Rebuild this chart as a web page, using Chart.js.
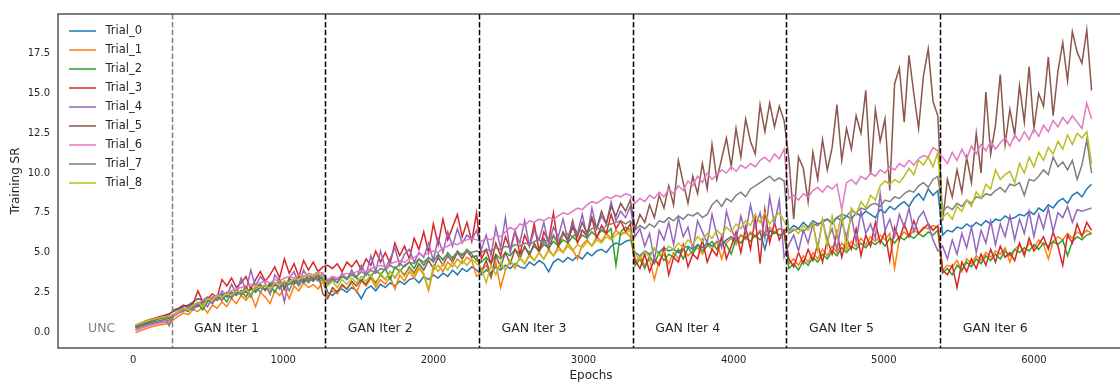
<!DOCTYPE html>
<html><head><meta charset="utf-8">
<script src="https://cdn.jsdelivr.net/npm/chart.js@4.4.1/dist/chart.umd.min.js"></script>
<style>html,body{margin:0;padding:0;overflow:hidden;background:#fff}#wrap{width:1126px;height:385px}</style>
</head><body><div id="wrap"><canvas id="c" width="1126" height="385"></canvas></div>
<script>
// ---- categories (epochs) ----
const epochs = [
16,48,80,112,144,176,208,240,
272,304,336,368,400,432,464,496,528,560,592,624,656,688,720,752,784,816,848,880,912,944,976,1008,1040,1072,1104,1136,1168,1200,1232,1264,
1296,1328,1360,1392,1424,1456,1488,1520,1552,1584,1616,1648,1680,1712,1744,1776,1808,1840,1872,1904,1936,1968,2000,2032,2064,2096,2128,2160,2192,2224,2256,2288,
2320,2352,2384,2416,2448,2480,2512,2544,2576,2608,2640,2672,2704,2736,2768,2800,2832,2864,2896,2928,2960,2992,3024,3056,3088,3120,3152,3184,3216,3248,3280,3312,
3344,3376,3408,3440,3472,3504,3536,3568,3600,3632,3664,3696,3728,3760,3792,3824,3856,3888,3920,3952,3984,4016,4048,4080,4112,4144,4176,4208,4240,4272,4304,4336,
4368,4400,4432,4464,4496,4528,4560,4592,4624,4656,4688,4720,4752,4784,4816,4848,4880,4912,4944,4976,5008,5040,5072,5104,5136,5168,5200,5232,5264,5296,5328,5360,
5392,5424,5456,5488,5520,5552,5584,5616,5648,5680,5712,5744,5776,5808,5840,5872,5904,5936,5968,6000,6032,6064,6096,6128,6160,6192,6224,6256,6288,6320,6352,6384
];
const trialNames = ['Trial_0','Trial_1','Trial_2','Trial_3','Trial_4','Trial_5','Trial_6','Trial_7','Trial_8'];
const trialColors = ['#1f77b4','#ff7f0e','#2ca02c','#d62728','#9467bd','#8c564b','#e377c2','#7f7f7f','#bcbd22'];

// ---- series values (Training SR) ----
const trial0 = [
0.35,0.5,0.62,0.74,0.85,0.95,1.05,1.15,
1.3,1.45,1.6,1.7,1.9,2.1,2.0,2.2,2.1,2.3,2.4,2.2,2.5,2.4,2.6,2.5,2.7,2.6,2.8,2.7,2.9,3.0,2.8,3.1,3.0,3.2,3.1,3.3,3.2,3.4,3.3,3.5,
2.5,2.3,2.6,2.7,2.5,2.8,2.6,2.1,2.7,2.9,2.6,3.0,2.8,3.1,2.9,3.2,3.0,3.3,3.4,3.1,3.5,3.3,3.6,3.4,3.7,3.5,3.9,3.6,4.0,3.8,4.1,3.9,
3.6,3.9,3.7,4.1,3.9,4.2,4.0,4.3,4.1,4.0,4.4,4.2,4.5,4.3,3.8,4.4,4.6,4.4,4.7,4.5,4.8,4.6,5.0,4.8,5.1,5.2,5.0,5.4,5.6,5.5,5.7,5.8,
5.0,4.8,5.1,4.9,5.2,5.0,5.3,5.1,5.2,5.0,5.3,5.4,5.2,5.5,5.3,5.6,5.4,5.7,5.5,5.8,6.0,5.7,6.1,5.9,6.2,6.0,6.3,5.2,6.4,6.2,6.5,6.4,
6.4,6.7,6.5,6.9,6.6,7.0,6.8,6.9,7.1,6.8,7.2,7.0,7.3,7.1,7.5,7.3,7.6,7.4,7.2,7.7,7.5,7.9,7.7,8.0,8.2,7.9,8.4,8.7,8.3,9.0,8.6,8.9,
6.1,6.4,6.3,6.6,6.5,6.8,6.6,6.9,6.7,7.0,6.8,7.1,7.0,7.3,7.1,7.2,7.4,7.3,7.6,7.4,7.8,7.6,8.0,7.8,8.2,8.4,8.1,8.6,8.8,8.5,9.0,9.3
];
const trial1 = [
-0.05,0.1,0.2,0.3,0.38,0.45,0.5,0.55,
0.8,1.0,1.2,1.1,1.4,1.3,1.6,1.2,1.7,1.5,1.9,1.6,2.1,1.8,2.3,2.0,2.4,1.6,2.5,2.2,1.8,2.6,2.3,2.8,2.1,2.9,2.6,3.1,2.8,3.0,2.7,3.2,
2.2,2.6,2.4,2.9,2.7,3.1,2.5,3.2,2.9,3.4,2.8,3.3,3.0,3.5,2.7,3.6,3.2,3.8,3.4,4.0,3.6,2.6,3.9,4.2,3.8,4.4,4.1,4.6,4.3,4.7,4.5,3.5,
3.8,4.2,3.4,4.4,2.8,3.9,4.5,4.0,4.7,4.3,4.9,4.5,5.0,4.6,5.2,4.8,5.4,5.0,5.6,5.2,4.6,5.5,5.8,5.4,6.0,5.7,6.2,5.9,6.4,6.1,6.3,6.0,
4.4,4.8,4.2,4.6,3.3,4.5,4.9,4.3,5.0,4.6,5.2,4.8,5.1,5.3,4.9,5.5,5.2,5.7,4.6,5.6,5.9,5.5,6.1,5.8,6.3,6.0,6.4,6.2,6.6,6.3,6.5,6.4,
4.3,4.6,4.2,4.8,4.4,5.0,4.6,5.2,4.8,5.4,5.0,5.6,5.2,5.7,5.4,5.9,5.5,6.0,5.7,6.1,5.8,6.2,4.0,5.9,6.3,6.0,6.4,6.2,6.6,6.5,6.7,6.6,
3.9,4.2,4.1,4.5,3.8,4.6,4.3,4.8,4.5,5.0,4.7,5.1,4.9,5.3,4.4,5.2,5.5,5.0,5.6,5.3,5.8,5.5,4.6,5.7,6.0,5.8,6.2,5.9,6.3,6.1,6.4,6.2
];
const trial2 = [
0.25,0.38,0.48,0.57,0.65,0.72,0.79,0.85,
1.0,1.2,1.4,1.3,1.6,1.8,1.4,1.9,2.1,2.0,2.3,1.9,2.5,2.3,2.6,2.2,2.8,2.5,2.9,2.7,3.0,2.5,3.1,2.9,3.2,3.0,3.3,3.1,3.4,3.2,3.5,3.3,
3.0,3.3,3.1,3.5,3.3,3.6,3.4,3.2,3.7,3.5,3.9,3.6,4.0,3.3,4.1,3.8,4.2,4.4,4.0,4.6,4.2,4.7,4.4,4.9,4.5,5.0,4.6,5.1,4.8,5.2,4.9,4.5,
4.4,4.7,4.3,4.9,4.6,5.0,4.8,5.2,4.9,5.3,5.0,5.4,5.1,5.5,5.3,5.7,5.4,5.8,5.6,6.0,5.7,6.1,5.9,6.3,6.0,6.4,6.2,6.5,4.2,6.3,6.6,6.4,
4.2,4.6,4.0,4.8,4.3,5.0,4.5,4.9,4.7,5.2,4.6,5.3,4.9,5.5,5.1,5.4,5.7,5.2,5.8,5.5,4.9,5.9,5.6,6.0,5.7,6.1,5.8,6.2,6.0,6.3,6.1,6.2,
4.0,4.3,3.9,4.5,4.2,4.7,4.4,4.9,4.6,5.1,4.8,5.3,5.0,5.4,5.2,5.6,5.3,5.7,5.5,5.8,5.4,5.9,5.6,6.0,5.8,6.1,5.9,6.2,6.0,6.3,6.1,6.4,
3.7,4.0,3.6,4.2,3.9,4.4,4.1,4.6,4.3,4.8,4.5,4.9,4.6,5.1,4.8,5.2,5.0,5.3,5.1,5.5,5.2,5.6,5.4,5.7,5.5,5.8,4.8,5.7,6.0,5.8,6.1,6.2
];
const trial3 = [
0.4,0.55,0.68,0.79,0.88,0.96,1.03,1.1,
1.4,1.5,1.7,1.6,1.8,2.6,1.9,2.1,2.4,2.2,3.3,2.9,3.4,2.8,3.1,3.5,2.7,3.3,3.8,3.2,3.6,4.1,3.4,4.6,3.7,4.3,3.5,4.5,3.9,4.4,3.8,4.1,
4.2,4.0,4.3,3.8,4.4,4.1,4.5,3.9,4.6,4.2,5.1,4.4,5.0,4.3,5.6,4.8,5.4,4.6,5.9,5.2,6.3,5.0,6.8,5.5,7.1,5.8,6.6,7.4,6.0,6.9,5.7,7.5,
4.6,5.2,4.3,5.6,4.8,6.0,5.2,6.4,4.9,6.1,5.4,6.8,5.1,6.3,5.7,7.5,5.4,6.2,5.8,7.0,5.6,6.4,6.0,7.2,5.9,6.7,6.2,7.4,6.5,7.0,6.3,6.8,
4.5,4.0,4.9,3.8,4.6,4.2,5.3,3.6,4.7,4.4,5.5,4.1,4.9,4.6,5.8,4.4,5.2,4.8,6.0,4.6,5.4,6.3,5.0,6.6,5.2,7.2,4.3,7.7,5.6,6.9,5.8,6.4,
4.6,4.1,5.0,4.3,5.2,4.5,5.5,4.4,5.8,4.9,6.3,4.7,5.9,5.2,6.5,4.8,6.1,5.4,6.9,5.6,6.3,4.5,6.6,5.8,6.8,6.0,7.0,6.2,6.5,6.8,6.4,6.7,
3.9,3.6,4.2,2.8,4.4,3.8,4.6,4.0,4.9,4.2,5.2,4.4,5.4,4.7,5.0,4.5,5.6,4.8,5.9,5.1,5.5,6.0,5.2,6.3,5.4,4.2,6.1,5.6,6.8,6.0,6.9,6.4
];
const trial4 = [
0.15,0.28,0.39,0.49,0.57,0.64,0.7,0.75,
1.0,1.2,1.3,1.5,1.4,1.7,1.9,1.6,2.2,2.0,2.6,2.3,3.0,2.4,3.4,2.6,3.9,2.9,3.5,3.1,2.4,3.6,3.2,1.9,3.4,3.8,3.0,3.9,3.3,3.6,3.4,3.7,
3.0,3.4,3.1,3.7,3.3,3.9,3.4,4.2,3.6,4.8,3.8,5.1,4.0,4.6,5.3,4.2,4.9,5.2,4.4,5.0,4.7,5.6,4.5,5.9,5.0,6.3,5.4,6.5,5.6,6.1,5.8,6.4,
5.2,6.1,4.8,6.6,5.3,7.2,5.0,6.3,5.6,7.0,5.4,6.4,5.8,6.9,5.5,6.6,6.0,7.1,5.8,6.8,6.2,7.4,6.0,7.8,6.5,7.3,6.8,8.2,7.0,7.6,7.2,7.9,
6.0,6.5,5.4,6.2,4.5,6.4,5.8,6.9,5.5,7.2,6.0,6.6,5.2,7.0,6.3,5.6,7.4,6.1,5.3,7.6,6.5,5.8,7.3,6.2,8.0,6.6,7.5,5.9,8.5,6.8,8.3,4.7,
5.5,6.1,5.1,6.4,5.6,6.8,5.3,7.0,5.8,6.5,5.2,6.9,6.0,7.3,5.7,7.6,6.2,6.8,5.9,8.7,6.4,7.1,6.0,7.4,6.6,7.8,6.3,7.2,7.6,6.8,5.8,5.1,
5.4,4.6,5.8,4.9,6.2,5.3,6.6,5.0,6.4,5.6,7.0,5.5,6.8,6.0,7.3,5.8,7.1,6.2,7.6,6.0,7.4,6.5,7.8,6.3,7.5,7.2,7.9,6.9,7.7,7.6,7.7,7.8
];
const trial5 = [
0.3,0.44,0.56,0.66,0.75,0.83,0.9,0.95,
1.1,1.3,1.5,1.4,1.7,1.6,1.9,2.1,1.8,2.3,2.0,2.5,2.2,2.7,2.4,2.9,2.3,2.8,3.0,2.6,3.1,2.9,3.3,2.7,3.4,3.1,3.5,3.2,3.6,3.3,3.7,2.4,
2.1,2.8,2.5,3.0,2.7,3.2,2.9,3.3,3.0,3.5,3.1,3.6,3.3,3.8,3.4,3.9,3.6,4.1,3.7,4.3,3.9,4.5,4.0,4.7,4.2,4.8,4.4,5.0,4.6,5.1,4.7,4.8,
3.8,4.5,3.5,4.8,4.1,5.0,4.3,5.2,4.6,5.4,4.8,5.6,5.0,5.9,5.2,6.1,5.5,6.3,5.7,6.6,6.0,6.9,6.2,7.2,6.5,7.6,6.8,7.9,7.3,8.1,7.6,8.3,
6.5,7.4,6.9,8.0,7.2,8.6,7.8,9.2,8.0,10.8,9.4,8.1,9.8,8.7,10.6,9.0,11.8,9.6,10.9,12.2,10.4,12.8,11.0,13.4,12.0,11.2,14.3,12.6,14.4,12.9,14.2,13.3,
10.9,7.1,11.0,10.3,8.2,11.3,9.6,12.1,10.2,11.6,14.3,10.8,12.8,11.5,13.6,12.5,15.2,9.9,14.0,12.0,13.4,8.9,15.6,16.6,13.2,17.4,15.0,12.8,16.1,17.8,14.5,13.6,
7.0,9.6,8.5,10.2,8.8,11.0,9.4,12.5,10.0,15.1,11.2,13.0,16.2,11.8,14.0,12.4,15.5,13.2,16.7,12.8,15.0,14.2,17.3,13.6,16.4,18.2,15.8,18.9,17.6,16.9,19.0,15.2
];
const trial6 = [
0.1,0.22,0.32,0.41,0.49,0.56,0.61,0.65,
1.0,1.2,1.4,1.5,1.7,1.8,2.0,2.1,2.2,2.3,2.5,2.4,2.6,2.7,2.8,2.9,3.0,2.9,3.1,3.2,3.1,3.3,3.2,3.4,3.5,3.4,3.6,3.5,3.7,3.6,3.8,3.7,
3.3,3.5,3.4,3.6,3.7,3.6,3.8,3.9,3.8,4.0,4.1,4.2,4.1,4.3,4.4,4.5,4.4,4.6,4.7,4.9,4.8,5.0,5.1,5.0,5.3,5.4,5.6,5.5,5.7,5.8,5.9,5.8,
5.7,5.9,5.8,6.1,6.0,6.3,6.6,6.4,6.8,6.7,7.0,6.9,7.1,7.0,7.2,7.1,7.3,7.5,7.4,7.6,7.8,7.7,8.0,8.2,8.1,8.3,8.5,8.4,8.6,8.5,8.7,8.6,
8.1,8.4,8.2,8.6,8.4,8.8,8.5,9.0,8.7,9.2,8.9,9.5,9.2,9.8,9.4,10.0,9.6,9.9,10.2,10.0,10.4,10.1,10.5,10.3,10.6,10.4,10.8,11.0,10.7,11.2,10.9,11.5,
8.4,8.6,8.3,8.7,8.5,8.9,9.1,8.8,9.2,9.0,9.3,7.7,9.4,9.6,9.3,9.8,9.6,10.0,9.8,10.2,10.0,10.4,10.2,10.6,10.4,10.8,10.5,10.9,11.1,11.0,11.6,11.4,
11.0,10.6,11.3,10.8,11.5,10.9,11.7,11.2,11.8,11.4,12.0,11.5,11.9,12.2,11.7,12.4,12.0,12.6,12.1,12.8,12.3,13.0,12.6,13.3,12.9,13.5,13.1,13.6,13.2,12.8,14.4,13.4
];
const trial7 = [
0.35,0.48,0.6,0.7,0.8,0.9,0.98,0.4,
1.1,1.3,1.4,1.6,1.5,1.8,1.7,2.0,1.8,2.2,2.0,2.4,2.1,2.6,2.3,2.7,2.2,2.9,2.5,3.0,2.4,3.1,2.7,3.2,2.6,3.3,2.9,3.4,3.1,3.5,3.2,3.3,
3.2,3.4,3.3,3.5,3.4,3.7,3.5,3.8,3.6,3.9,3.7,4.0,3.9,4.2,4.0,4.3,4.1,4.4,4.3,4.6,4.4,4.7,4.5,4.8,4.6,4.9,4.7,5.0,4.9,5.1,5.0,5.1,
5.0,5.2,5.1,5.3,5.2,5.4,5.3,5.5,5.4,5.6,5.5,5.7,5.8,5.6,5.9,6.0,5.8,6.1,6.2,6.0,6.3,6.4,6.2,6.5,6.6,6.4,6.7,6.8,6.9,7.0,6.8,7.0,
6.4,6.7,6.5,6.8,6.6,7.0,6.9,7.2,7.0,7.3,7.1,7.4,7.3,7.5,7.2,7.4,8.0,8.3,7.9,8.4,8.2,8.6,8.8,8.5,9.0,9.2,9.4,9.6,9.8,9.5,9.7,9.5,
6.2,6.4,6.5,6.3,6.6,6.8,6.7,7.0,7.1,6.9,7.2,7.4,7.3,7.6,7.5,7.8,7.7,8.0,8.1,7.9,8.3,8.2,8.5,8.4,8.7,8.9,8.8,9.2,9.4,9.1,9.6,9.8,
7.6,7.9,7.7,8.1,7.9,8.3,8.1,8.5,8.4,8.7,8.6,8.9,9.1,8.8,9.3,9.2,9.4,8.6,9.6,9.5,9.8,10.2,9.9,11.0,10.4,10.7,10.2,10.8,9.6,10.5,12.1,10.0
];
const trial8 = [
0.45,0.57,0.67,0.76,0.84,0.9,0.96,1.0,
1.1,1.3,1.5,1.4,1.7,1.9,1.6,2.1,2.0,2.3,2.2,2.4,2.3,2.6,2.5,2.7,2.4,2.9,2.8,3.0,2.7,3.1,3.0,3.2,3.1,3.4,3.3,3.5,3.6,3.5,3.7,3.5,
2.9,3.2,2.8,3.3,3.0,3.4,3.1,3.5,3.2,3.6,2.9,3.7,3.3,3.8,3.4,3.9,3.5,4.0,3.6,4.1,3.7,2.7,4.2,3.8,4.3,3.9,4.4,4.0,4.5,4.2,4.6,4.3,
4.0,3.1,4.2,3.6,4.4,3.9,4.5,4.1,4.7,4.3,4.8,4.5,5.0,4.6,5.1,4.8,5.2,5.0,5.4,5.1,5.5,5.3,5.7,5.4,5.8,5.6,6.0,5.8,6.1,6.3,6.2,6.4,
4.9,4.6,5.1,4.7,5.3,4.8,5.0,5.4,5.2,5.6,5.3,5.8,5.5,6.0,5.7,6.2,5.9,6.4,6.1,6.6,6.3,6.8,6.5,7.0,6.7,7.4,6.9,7.5,6.8,7.2,7.5,7.0,
6.3,6.5,6.2,6.7,6.4,6.9,5.1,7.1,5.4,7.3,6.0,7.5,5.2,7.8,7.4,8.2,7.8,8.6,8.3,9.2,9.5,9.3,9.6,9.4,9.8,10.3,9.9,10.8,10.5,11.0,10.4,11.3,
7.2,7.5,7.1,7.9,7.6,8.3,7.9,8.8,8.4,9.3,9.0,10.2,9.6,9.9,10.1,9.4,10.6,10.0,11.0,10.4,11.3,10.8,11.6,11.2,12.0,11.5,12.4,11.8,12.5,12.2,12.6,10.6
];
const trialSeries = [trial0, trial1, trial2, trial3, trial4, trial5, trial6, trial7, trial8];

// ---- ticks and phase annotations ----
const xTicks = [0, 1000, 2000, 3000, 4000, 5000, 6000];
const yTicks = [0, 2.5, 5, 7.5, 10, 12.5, 15, 17.5];
const iterBoundaries = [256, 1280, 2304, 3328, 4352, 5376];
const phaseLabels = ['UNC', 'GAN Iter 1', 'GAN Iter 2', 'GAN Iter 3', 'GAN Iter 4', 'GAN Iter 5', 'GAN Iter 6'];
const phaseLabelEpochs = [-300, 406, 1430, 2454, 3478, 4502, 5526];

const FONT = 'DejaVu Sans';
const TXT = '#262626';
Chart.defaults.font.family = FONT;

const overlay = {
  id: 'overlay',
  afterDatasetsDraw(chart) {
    const {ctx, chartArea: a, scales: {x, y}} = chart;
    ctx.save();
    // iteration boundaries
    ctx.lineWidth = 1.5;
    ctx.setLineDash([5.5, 2.4]);
    iterBoundaries.forEach((e, i) => {
      const px = Math.round(x.getPixelForValue(e)) + 0.5;
      ctx.strokeStyle = i === 0 ? '#808080' : '#000000';
      ctx.beginPath(); ctx.moveTo(px, a.top); ctx.lineTo(px, a.bottom); ctx.stroke();
    });
    ctx.setLineDash([]);
    // phase labels
    ctx.font = '12.5px "' + FONT + '"';
    ctx.textBaseline = 'alphabetic';
    ctx.textAlign = 'left';
    const py = y.getPixelForValue(0);
    phaseLabels.forEach((t, i) => {
      ctx.fillStyle = i === 0 ? '#808080' : TXT;
      ctx.fillText(t, x.getPixelForValue(phaseLabelEpochs[i]), py);
    });
    // frame
    ctx.strokeStyle = '#333333';
    ctx.lineWidth = 1.25;
    ctx.strokeRect(a.left, a.top, a.right - a.left, a.bottom - a.top);
    ctx.restore();
  },
  afterDraw(chart) {
    const {ctx, chartArea: a} = chart;
    ctx.save();
    ctx.font = '11.5px "' + FONT + '"';
    ctx.textBaseline = 'middle';
    ctx.textAlign = 'left';
    chart.data.datasets.forEach((ds, i) => {
      const yy = a.top + 17 + 19 * i;
      ctx.strokeStyle = ds.borderColor;
      ctx.lineWidth = 1.5;
      ctx.beginPath(); ctx.moveTo(a.left + 11, yy); ctx.lineTo(a.left + 38, yy); ctx.stroke();
      ctx.fillStyle = TXT;
      ctx.fillText(ds.label, a.left + 47.5, yy);
    });
    ctx.restore();
  }
};

new Chart(document.getElementById('c'), {
  type: 'line',
  data: {
    labels: epochs,
    datasets: trialSeries.map((s, i) => ({
      label: trialNames[i],
      data: s,
      borderColor: trialColors[i],
      backgroundColor: trialColors[i],
      borderWidth: 1.5,
      pointRadius: 0,
      pointHoverRadius: 0,
      tension: 0,
      fill: false,
      order: trialSeries.length - 1 - i
    }))
  },
  options: {
    responsive: false,
    animation: false,
    devicePixelRatio: 1,
    layout: {padding: {left: 0, right: 2, top: 2, bottom: 0}},
    plugins: {legend: {display: false}, tooltip: {enabled: false}},
    scales: {
      x: {
        type: 'linear', min: -500, max: 6600,
        afterBuildTicks: s => { s.ticks = xTicks.map(v => ({value: v})); },
        afterFit: s => { s.height = 37; },
        grid: {display: false, drawTicks: false},
        border: {display: false},
        ticks: {font: {size: 10}, color: TXT, padding: 6, maxRotation: 0, autoSkip: false, callback: v => String(v)},
        title: {display: true, text: 'Epochs', font: {size: 12}, color: TXT, padding: {top: 0, bottom: 2}}
      },
      y: {
        type: 'linear', min: -1, max: 20,
        afterBuildTicks: s => { s.ticks = yTicks.map(v => ({value: v})); },
        afterFit: s => { s.width = 58; },
        grid: {display: false, drawTicks: false},
        border: {display: false},
        ticks: {font: {size: 10}, color: TXT, padding: 8, autoSkip: false, callback: v => Number(v).toFixed(1)},
        title: {display: true, text: 'Training SR', font: {size: 12}, color: TXT, padding: {top: 9, bottom: 0}}
      }
    }
  },
  plugins: [overlay]
});
</script>
</body></html>
